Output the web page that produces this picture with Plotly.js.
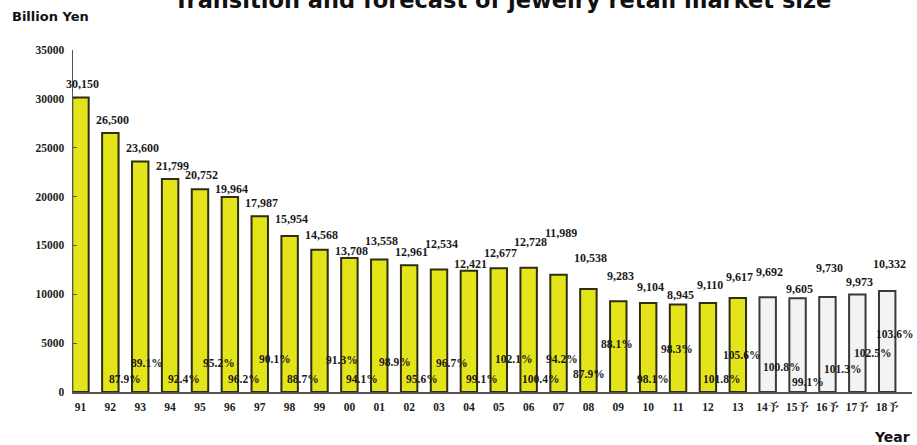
<!DOCTYPE html>
<html>
<head>
<meta charset="utf-8">
<script src="https://cdn.plot.ly/plotly-3.0.1.min.js"></script>
<style>html,body{margin:0;padding:0;background:#fff;}#chart{width:917px;height:445px;}</style>
</head>
<body>
<div id="chart"></div>
<script>
// ---- data ----
var actualYears = ['91','92','93','94','95','96','97','98','99','00','01','02','03','04','05','06','07','08','09','10','11','12','13'];
var actualSales = [30150,26500,23600,21799,20752,19964,17987,15954,14568,13708,13558,12961,12534,12421,12677,12728,11989,10538,9283,9104,8945,9110,9617];
var forecastYears = ['14予','15予','16予','17予','18予'];
var forecastSales = [9692,9605,9730,9973,10332];
var yoyLabels = ['','87.9%','89.1%','92.4%','95.2%','96.2%','90.1%','88.7%','91.3%','94.1%','98.9%','95.6%','96.7%','99.1%','102.1%','100.4%','94.2%','87.9%','88.1%','98.1%','98.3%','101.8%','105.6%','100.8%','99.1%','101.3%','102.5%','103.6%'];

// ---- label placement (pixels), as positioned in the reference ----
var valueLift = [13,13,13,13,14,8,13,17,15,7,19,13,26,7,15,26,42,31,25,16,10,18,21,25,9,29,13,27];
var pctLift = [0,13,29,13,29,13,33,13,32,13,30,13,29,13,33,13,33,18,48,13,43,13,37,25,10,23,39,58];
var pctShift = [0,15,7,14,19,14,15,13,22,13,16,13,13,13,15,12,3,1,-1,5,-1,14,4,14,10,15,15,7];

var allYears = actualYears.concat(forecastYears);
var allSales = actualSales.concat(forecastSales);

var serif = 'Liberation Serif, Times New Roman, Noto Serif CJK JP, Noto Sans CJK JP, serif';
var sans = 'DejaVu Sans, Verdana, sans-serif';
var traces = [
  {type:'bar', x:actualYears, y:actualSales, width:0.55,
   marker:{color:'#e4e41a', line:{color:'#2e2e10', width:2}}, hoverinfo:'x+y', showlegend:false},
  {type:'bar', x:forecastYears, y:forecastSales, width:0.55,
   marker:{color:'#f3f3f3', line:{color:'#3a3a3a', width:2}}, hoverinfo:'x+y', showlegend:false}
];

var annotations = [];
allYears.forEach(function(yr, i){
  // category axis: annotations use the category index
  annotations.push({x:i, y:allSales[i], xref:'x', yref:'y', text:allSales[i].toLocaleString('en-US'),
    showarrow:false, yanchor:'middle', xanchor:'center', yshift:valueLift[i], xshift:2,
    font:{family:serif, size:12, color:'#1a1a1a', weight:'bold'}});
  if (yoyLabels[i]) {
    annotations.push({x:i, y:0, xref:'x', yref:'y', text:yoyLabels[i], showarrow:false,
      yanchor:'middle', xanchor:'center', yshift:pctLift[i], xshift:pctShift[i],
      font:{family:serif, size:11.5, color:'#1a1a1a', weight:'bold'}});
  }
});
annotations.push({text:'Billion Yen', showarrow:false, xref:'paper', yref:'paper',
  x:-63/839, y:1+33/342, xanchor:'left', yanchor:'middle',
  font:{family:sans, size:13, color:'#111', weight:'bold'}});
annotations.push({text:'Year', showarrow:false, xref:'paper', yref:'paper', x:1, y:-45/342,
  xanchor:'right', yanchor:'middle', font:{family:sans, size:14, color:'#111', weight:'bold'}});

var layout = {
  width:917, height:445,
  margin:{l:73, r:5, t:50, b:53},
  paper_bgcolor:'#fff', plot_bgcolor:'#fff',
  title:{text:'Transition and forecast of jewelry retail market size', x:0.548, xanchor:'center',
    y:1, yref:'paper', yanchor:'bottom', pad:{b:42},
    font:{family:sans, size:22.5, color:'#111', weight:'bold'}},
  xaxis:{type:'category', categoryorder:'array', categoryarray:allYears, range:[-0.25, 27.83],
    showline:true, linecolor:'#555', linewidth:1.5, ticks:'', showgrid:false, zeroline:false,
    ticklabelstandoff:4,
    tickfont:{family:serif, size:11.5, color:'#222', weight:'bold'},
    title:{text:''}},
  yaxis:{range:[0,35000], dtick:5000, showline:true, linecolor:'#555', linewidth:1.5, ticks:'inside', ticklen:4,
    tickcolor:'#555', showgrid:false, zeroline:false, tickformat:'d', ticklabelstandoff:5,
    tickfont:{family:serif, size:11.5, color:'#222', weight:'bold'}, title:{text:''}},
  annotations:annotations
};

Plotly.newPlot('chart', traces, layout, {displayModeBar:false, staticPlot:true});
</script>
</body>
</html>
